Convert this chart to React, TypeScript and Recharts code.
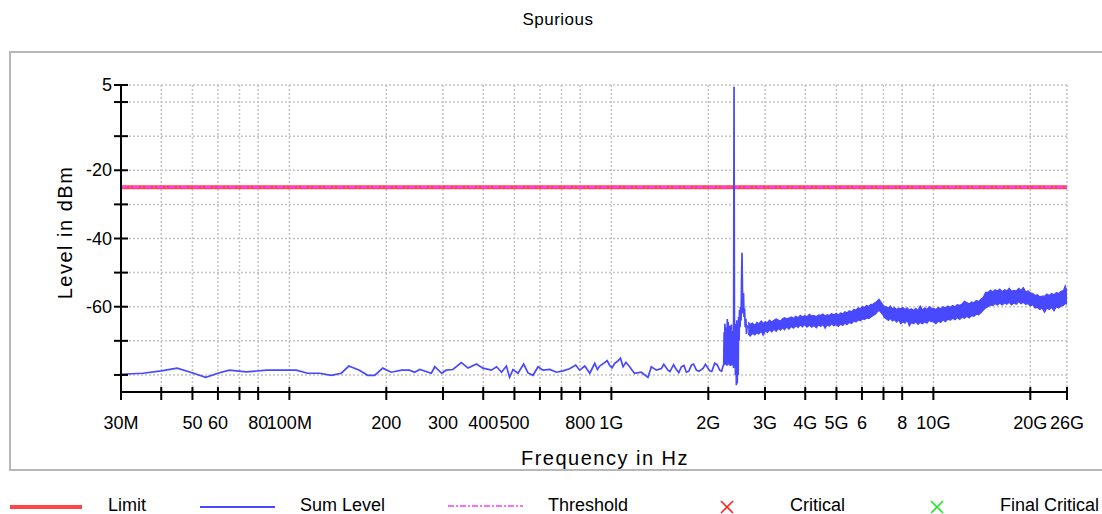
import { ComposedChart, Line, Area, XAxis, YAxis, CartesianGrid } from 'recharts';

const FONT = "'Liberation Sans', Arial, sans-serif";

// frequency in MHz, level in dBm
const lowBand: [number, number][] = [
  [30, -79.8], [35.1, -79.5], [40, -78.8], [44.8, -78.0], [49.6, -79.3], [55, -80.7], [60, -79.5],
  [65, -78.6], [73.5, -79.1], [85, -78.6], [105, -78.6], [114, -79.5], [124, -79.5], [135, -80.1],
  [145, -79.5], [153, -77.4], [165, -78.6], [175, -80.1], [184, -80.1], [195, -78.0], [207, -79.2],
  [223, -78.6], [236, -78.6], [245, -79.2], [254, -78.4],
];

const midBand: [number, number][] = [
  [276, -79.5], [283, -77.6], [297, -79.5], [307, -78.6], [322, -78.4], [342, -76.4], [359, -78.0],
  [381, -76.8], [399, -78.0], [424, -78.6], [440, -77.6], [456, -79.2], [472, -77.4], [483, -80.7],
  [495, -78.4], [513, -79.5], [534, -76.8], [551, -79.4], [571, -80.1], [592, -77.6], [613, -78.6],
  [644, -78.4], [675, -79.2], [708, -78.8], [742, -78.2], [775, -77.1], [797, -78.6], [827, -77.4],
  [857, -79.5], [888, -76.6], [905, -78.4], [920, -77.4], [953, -76.4], [970, -75.8], [988, -77.2],
  [1005, -77.9], [1024, -76.6], [1045, -76.0], [1067, -75.1], [1087, -77.6], [1110, -76.3],
  [1140, -77.6], [1160, -78.6], [1181, -79.5], [1239, -79.2], [1299, -80.7], [1331, -77.6],
  [1380, -78.6], [1430, -78.1], [1455, -76.9], [1499, -78.6], [1520, -79.0], [1560, -77.0],
  [1592, -78.4], [1620, -79.3], [1650, -77.6], [1680, -77.2], [1710, -79.2], [1740, -78.9],
  [1773, -77.1], [1800, -76.8], [1837, -78.6], [1870, -78.9], [1926, -78.1], [1960, -76.9],
  [2020, -78.8], [2050, -79.0], [2094, -76.6], [2130, -77.0], [2170, -78.6], [2200, -78.9],
  [2222, -77.4],
];

const spikeBand: [number, number][] = [
  [2233, -77.1], [2240, -67.5], [2246, -76.8], [2252, -65.0], [2258, -77.0], [2265, -68.5],
  [2271, -76.2], [2278, -66.0], [2285, -77.3], [2291, -63.6], [2298, -76.5], [2305, -64.5],
  [2312, -77.0], [2319, -67.0], [2326, -76.0], [2333, -65.5], [2340, -77.4], [2347, -66.8],
  [2354, -76.8], [2361, -65.2], [2368, -77.2], [2375, -67.2], [2382, -76.6], [2390, -70.0],
  [2396, -78.0], [2404, 4.5], [2412, -76.0], [2420, -66.0], [2428, -80.0], [2436, -65.0],
  [2444, -83.0], [2452, -64.0], [2460, -82.5], [2468, -66.0], [2476, -80.0], [2484, -63.0],
  [2492, -70.0], [2500, -61.0], [2510, -66.0], [2518, -60.0], [2528, -64.0], [2537, -52.0],
  [2545, -44.2], [2553, -55.0], [2562, -62.0], [2572, -56.0], [2582, -63.0], [2592, -60.5],
  [2604, -66.0], [2616, -63.5], [2628, -68.0], [2640, -65.5], [2660, -66.2],
];

// dense noise above 2.66 GHz: [MHz, lowest dBm, highest dBm]
const highBand: [number, number, number][] = [
  [2660, -68.0, -64.5], [2700, -68.6, -65.2], [2740, -67.8, -64.8], [2790, -68.3, -65.5],
  [2830, -67.6, -64.6], [2870, -68.0, -65.0], [2920, -67.2, -64.2], [2960, -68.4, -64.9],
  [3010, -67.0, -64.4], [3050, -67.6, -64.7], [3100, -66.8, -63.9], [3150, -67.4, -64.5],
  [3200, -66.6, -64.0], [3250, -67.2, -63.6], [3300, -66.4, -63.9], [3350, -66.9, -64.2],
  [3400, -66.2, -63.5], [3450, -66.8, -63.2], [3500, -65.9, -63.5], [3560, -66.6, -63.3],
  [3620, -65.8, -63.0], [3680, -66.3, -63.4], [3740, -65.6, -62.8], [3800, -66.1, -63.2],
  [3860, -65.4, -62.5], [3920, -65.9, -63.0], [3980, -65.2, -62.6], [4050, -66.0, -62.9],
  [4120, -65.4, -62.2], [4190, -66.0, -62.7], [4260, -65.5, -62.6], [4330, -66.2, -62.9],
  [4400, -65.3, -62.4], [4470, -65.8, -62.5], [4540, -65.2, -62.1], [4610, -66.3, -62.7],
  [4680, -65.3, -62.3], [4750, -65.7, -62.6], [4830, -65.0, -62.0], [4910, -65.6, -62.4],
  [4990, -65.2, -61.9], [5070, -65.8, -62.4], [5150, -65.1, -61.8], [5230, -65.5, -62.1],
  [5310, -64.8, -61.5], [5390, -65.3, -61.8], [5480, -64.6, -61.2], [5570, -64.9, -61.5],
  [5660, -64.2, -60.8], [5750, -64.5, -61.0], [5840, -63.9, -60.3], [5930, -64.1, -60.6],
  [6020, -63.6, -59.9], [6110, -63.8, -60.2], [6200, -63.3, -59.6], [6300, -63.5, -59.9],
  [6400, -63.0, -59.3], [6500, -62.6, -59.2], [6600, -62.2, -58.8], [6700, -61.5, -58.3],
  [6780, -61.0, -57.8], [6860, -61.6, -58.5], [6950, -62.2, -59.3], [7050, -63.2, -59.9],
  [7150, -63.6, -60.0], [7250, -64.0, -60.4], [7350, -63.4, -59.8], [7460, -64.2, -60.6],
  [7570, -63.8, -60.2], [7680, -64.5, -60.8], [7800, -63.9, -60.4], [7920, -65.0, -60.6],
  [8040, -64.4, -60.2], [8160, -64.8, -60.8], [8290, -64.0, -60.3], [8420, -65.6, -61.0],
  [8550, -64.6, -60.6], [8680, -65.0, -61.1], [8820, -64.4, -60.5], [8960, -65.2, -61.1],
  [9100, -64.6, -59.8], [9250, -65.0, -61.0], [9400, -64.4, -60.3], [9550, -64.8, -60.8],
  [9700, -64.0, -60.0], [9850, -64.4, -60.4], [10000, -64.4, -60.5], [10180, -65.0, -60.8],
  [10360, -64.2, -60.2], [10540, -64.6, -60.6], [10720, -63.8, -60.0], [10900, -64.4, -60.4],
  [11090, -63.6, -59.8], [11280, -64.0, -60.2], [11470, -63.4, -59.6], [11670, -63.8, -60.0],
  [11870, -63.2, -59.4], [12070, -63.7, -59.6], [12280, -63.0, -59.2], [12490, -63.4, -58.4],
  [12700, -62.8, -58.8], [12920, -63.3, -59.2], [13140, -62.6, -58.6], [13360, -62.8, -58.9],
  [13590, -62.2, -58.2], [13820, -62.4, -58.5], [14050, -61.8, -57.8], [14290, -61.0, -57.2],
  [14530, -60.4, -55.8], [14780, -60.0, -55.8], [15030, -59.5, -55.2], [15290, -59.7, -55.6],
  [15550, -59.1, -55.0], [15810, -59.5, -55.4], [16080, -58.9, -54.8], [16350, -59.5, -55.6],
  [16630, -58.9, -55.0], [16910, -59.3, -55.4], [17200, -58.7, -54.6], [17490, -59.5, -55.5],
  [17790, -58.9, -55.2], [18090, -59.3, -55.4], [18400, -58.5, -54.6], [18710, -59.1, -55.2],
  [19030, -58.7, -54.4], [19350, -59.3, -55.6], [19680, -59.1, -55.4], [20010, -59.8, -55.9],
  [20350, -59.4, -56.1], [20700, -60.4, -56.7], [21050, -60.2, -56.5], [21410, -60.8, -57.1],
  [21770, -60.4, -56.9], [22140, -61.6, -56.9], [22520, -60.4, -56.3], [22900, -60.8, -56.7],
  [23290, -60.2, -56.1], [23690, -61.2, -56.5], [24090, -60.0, -55.9], [24500, -60.4, -56.1],
  [24920, -59.8, -55.5], [25340, -59.6, -55.3], [25660, -59.0, -53.9], [25850, -59.2, -54.9],
  [26000, -58.6, -54.7],
];

const limitLevel: [number, number][] = [[30, -25], [26000, -25]];
const thresholdLevel: [number, number][] = [[30, -25], [26000, -25]];

const freqTicks = [30, 40, 50, 60, 70, 80, 100, 200, 300, 400, 500, 600, 700, 800, 1000, 2000, 3000, 4000, 5000, 6000, 7000, 8000, 10000, 20000, 26000];
const freqLabels: Record<number, string> = {
  30: '30M', 50: '50', 60: '60', 80: '80', 100: '100M', 200: '200', 300: '300', 400: '400', 500: '500',
  800: '800', 1000: '1G', 2000: '2G', 3000: '3G', 4000: '4G', 5000: '5G', 6000: '6', 8000: '8',
  10000: '10G', 20000: '20G', 26000: '26G',
};
const levelTicks = [5, 0, -10, -20, -30, -40, -50, -60, -70, -80];
const levelLabels: Record<number, string> = { 5: '5', '-20': '-20', '-40': '-40', '-60': '-60' };

const toPoints = (rows: [number, number][]) => rows.map(([f, v]) => ({ f, v }));
const sumLevel = toPoints([...lowBand, ...midBand, ...spikeBand]);
const sumBand = highBand.map(([f, lo, hi]) => ({ f, r: [lo, hi] }));

const RED = '#ff4646';
const BLUE = '#4848ff';
const MAGENTA = '#ff3cff';

function YTick({ x, y, payload }: any) {
  return (
    <g>
      <line x1={x - 7} x2={x + 7} y1={y} y2={y} stroke="#000" strokeWidth={2} />
      <text x={x - 9} y={y} textAnchor="end" dominantBaseline="central" fontSize={18} fontFamily={FONT} fill="#000">
        {levelLabels[payload.value] ?? ''}
      </text>
    </g>
  );
}

function XTick({ x, y, payload }: any) {
  return (
    <g>
      <line x1={x} x2={x} y1={y - 5} y2={y + 8} stroke="#000" strokeWidth={2} />
      <text x={x} y={y + 31} textAnchor="middle" dominantBaseline="central" fontSize={18} fontFamily={FONT} fill="#000">
        {freqLabels[payload.value] ?? ''}
      </text>
    </g>
  );
}

function Cross({ color }: { color: string }) {
  return (
    <svg width={14} height={14} style={{ display: 'block' }}>
      <line x1={1} y1={1} x2={13} y2={13} stroke={color} strokeWidth={1.6} />
      <line x1={13} y1={1} x2={1} y2={13} stroke={color} strokeWidth={1.6} />
    </svg>
  );
}

const legendText = {
  position: 'absolute' as const, top: 496, height: 18, fontSize: 18, fontFamily: FONT, lineHeight: '18px', whiteSpace: 'nowrap' as const,
};

export default function App() {
  return (
    <div style={{ position: 'absolute', left: 0, top: 0, width: 1102, height: 514, background: '#fff', overflow: 'hidden' }}>
      <div style={{ position: 'absolute', left: 7, width: 1102, top: 8, textAlign: 'center', fontSize: 17, fontFamily: FONT, lineHeight: '24px', letterSpacing: 0.5 }}>
        Spurious
      </div>
      <div style={{ position: 'absolute', left: 9, top: 51, width: 1091, height: 416, border: '2px solid #b8b8b8' }} />
      <div style={{ position: 'absolute', left: 0, top: 0 }}>
        <ComposedChart width={1102} height={514} margin={{ top: 85, right: 35, left: 0, bottom: 0 }}>
          <CartesianGrid stroke="#c4c4c4" strokeWidth={1.5} strokeDasharray="2 2" />
          <XAxis
            dataKey="f"
            type="number"
            scale="log"
            domain={[30, 26000]}
            ticks={freqTicks}
            interval={0}
            height={122}
            tickSize={0}
            tickMargin={0}
            tickLine={false}
            axisLine={{ stroke: '#000', strokeWidth: 2 }}
            tick={<XTick />}
            allowDataOverflow
            label={{
              content: ({ viewBox }: any) => (
                <text x={viewBox.x + viewBox.width / 2 + 11} y={viewBox.y + 66} textAnchor="middle" dominantBaseline="central" fontSize={20} fontFamily={FONT} letterSpacing={1.5} fill="#000">
                  Frequency in Hz
                </text>
              ),
            }}
          />
          <YAxis
            type="number"
            domain={[-85, 5]}
            ticks={levelTicks}
            interval={0}
            width={121}
            tickSize={0}
            tickMargin={0}
            tickLine={false}
            axisLine={{ stroke: '#000', strokeWidth: 2 }}
            tick={<YTick />}
            allowDataOverflow
            label={{
              content: ({ viewBox }: any) => (
                <text
                  x={65}
                  y={viewBox.y + viewBox.height / 2 - 6}
                  textAnchor="middle"
                  dominantBaseline="central"
                  fontSize={20}
                  fontFamily={FONT}
                  letterSpacing={1.5}
                  fill="#000"
                  transform={`rotate(-90 65 ${viewBox.y + viewBox.height / 2 - 6})`}
                >
                  Level in dBm
                </text>
              ),
            }}
          />
          <Line data={toPoints(limitLevel)} dataKey="v" stroke={RED} strokeWidth={4} dot={false} isAnimationActive={false} />
          <Line data={toPoints(thresholdLevel)} dataKey="v" stroke={MAGENTA} strokeWidth={2} strokeDasharray="6 2 2 2" dot={false} isAnimationActive={false} />
          <Area data={sumBand} dataKey="r" type="linear" stroke={BLUE} strokeWidth={1.2} fill={BLUE} fillOpacity={1} isAnimationActive={false} />
          <Line data={sumLevel} dataKey="v" stroke={BLUE} strokeWidth={1.7} dot={false} isAnimationActive={false} />
        </ComposedChart>
      </div>
      <div style={{ position: 'absolute', left: 10, top: 505, width: 72, height: 4, background: RED }} />
      <div style={{ ...legendText, left: 108 }}>Limit</div>
      <div style={{ position: 'absolute', left: 200, top: 506, width: 75, height: 2, background: BLUE }} />
      <div style={{ ...legendText, left: 300 }}>Sum Level</div>
      <svg style={{ position: 'absolute', left: 448, top: 502 }} width={75} height={8}>
        <line x1={0} x2={75} y1={4} y2={4} stroke={MAGENTA} strokeWidth={1.5} strokeDasharray="6 2 2 2" />
      </svg>
      <div style={{ ...legendText, left: 548 }}>Threshold</div>
      <div style={{ position: 'absolute', left: 720, top: 500 }}><Cross color="#ff1e1e" /></div>
      <div style={{ ...legendText, left: 790 }}>Critical</div>
      <div style={{ position: 'absolute', left: 930, top: 500 }}><Cross color="#1ee61e" /></div>
      <div style={{ ...legendText, left: 1000 }}>Final Critical</div>
    </div>
  );
}
